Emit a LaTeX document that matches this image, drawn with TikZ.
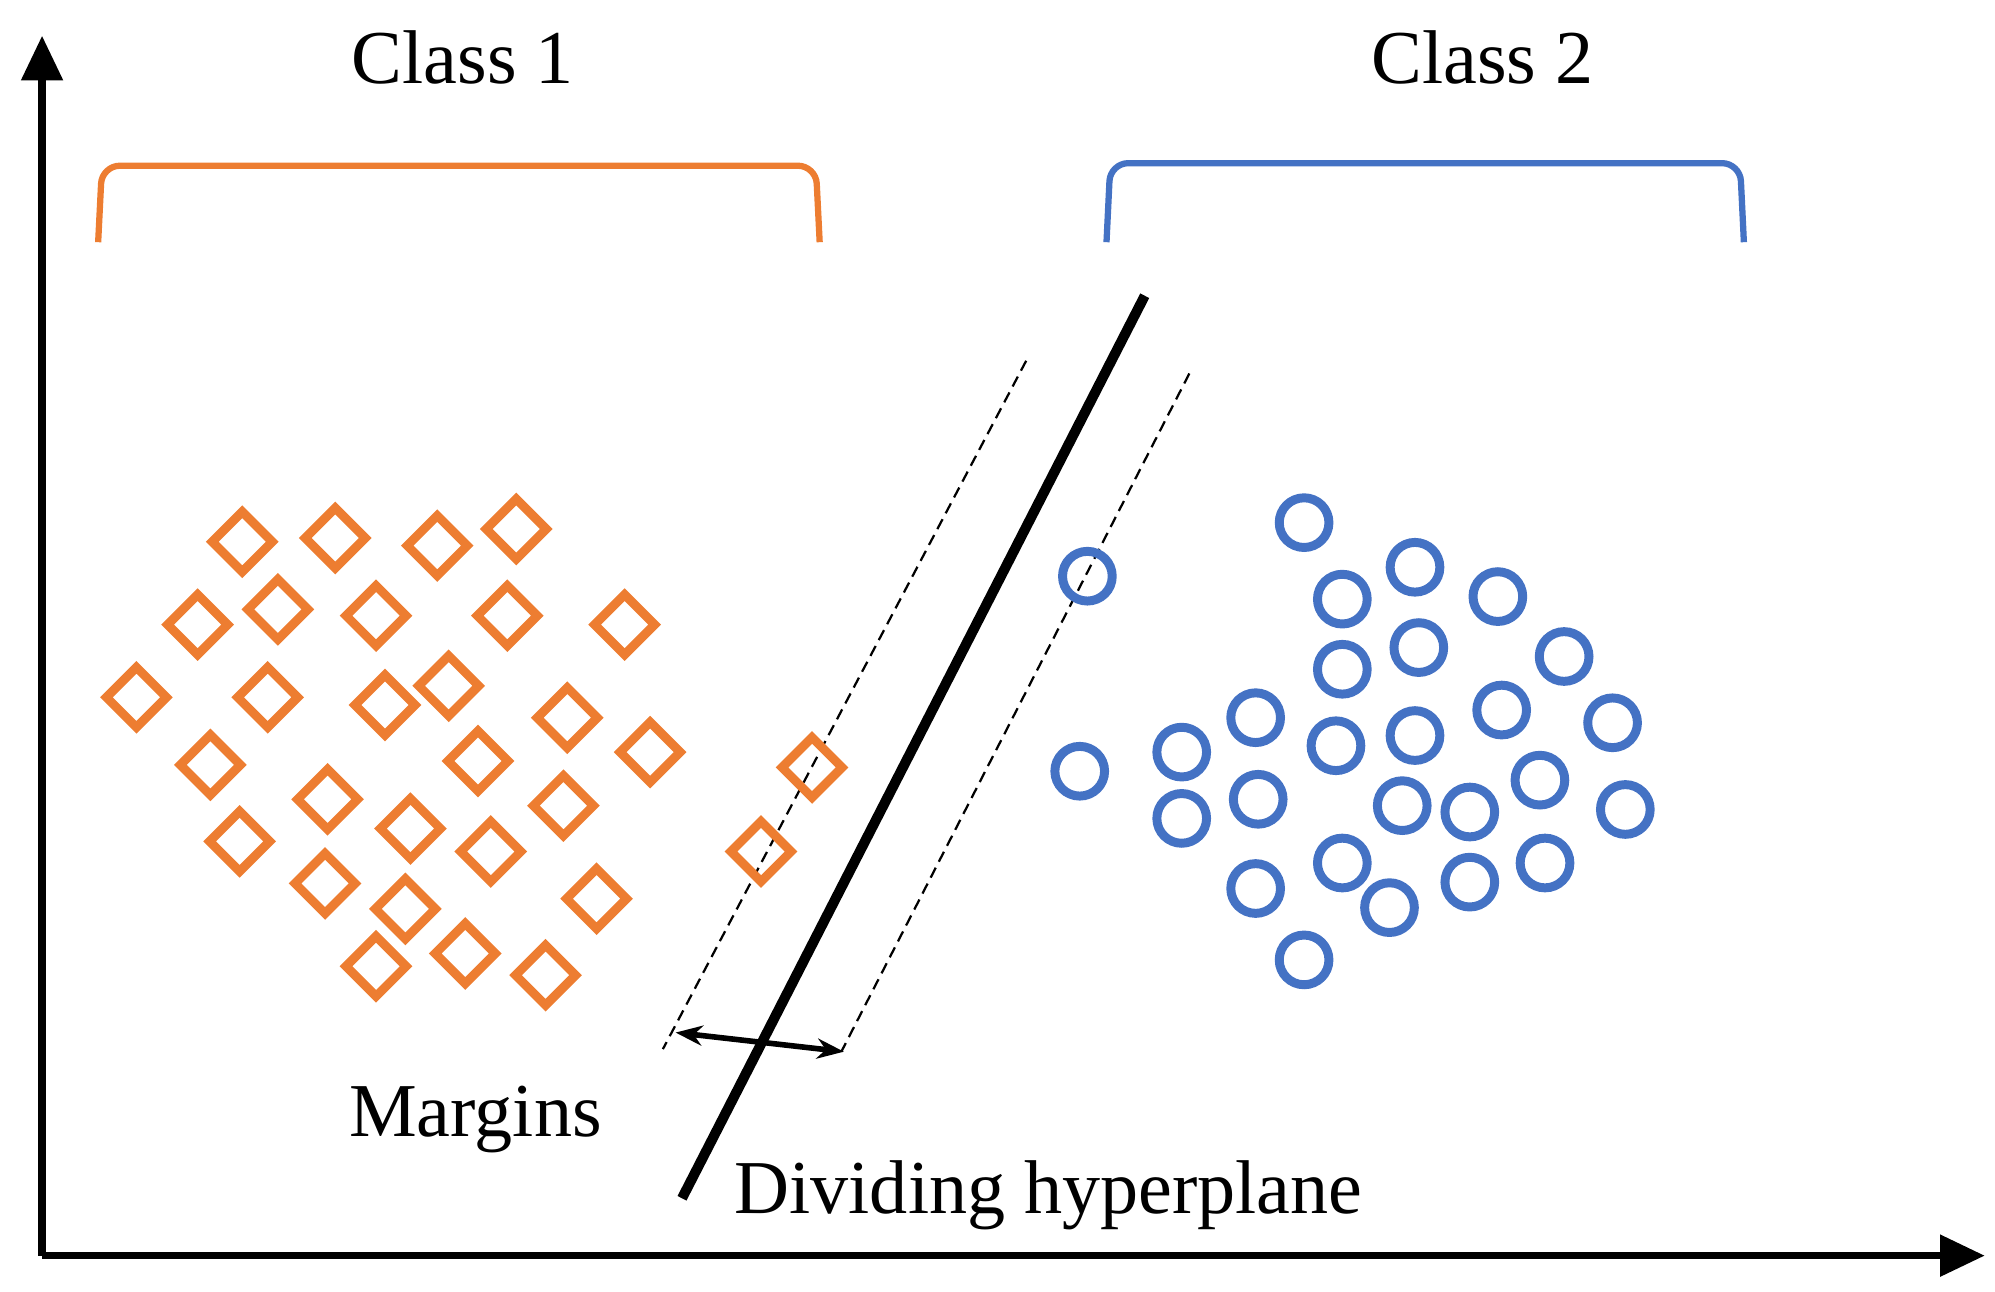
\documentclass[tikz,border=0pt]{standalone}
\usepackage{fontspec}
\setmainfont{Liberation Serif}
\usetikzlibrary{shapes.geometric,arrows.meta}
\definecolor{orng}{RGB}{237,125,49}
\definecolor{blu}{RGB}{68,114,196}
\begin{document}
\begin{tikzpicture}[x=0.02cm,y=-0.02cm,
  dia/.style={diamond,draw=orng,line width=4pt,minimum size=1.0cm,inner sep=0pt},
  circ/.style={circle,draw=blu,line width=4pt,minimum size=0.78cm,inner sep=0pt},
  lbl/.style={font=\fontsize{34}{40}\selectfont},
  axis/.style={line width=3.4pt,-{Triangle[length=20pt,width=18pt]}}]
\useasboundingbox (0,0) rectangle (1565,1013);
\coordinate (o) at (33,985);
\coordinate (ytop) at (33,28);
\coordinate (xend) at (1557,985);
\draw[axis] (o) -- (ytop);
\draw[axis] (o) -- (xend);
\node[lbl] (c1) at (363,45) {Class 1};
\node[lbl] (c2) at (1163,45) {Class 2};
\draw[orng,line width=2.8pt,rounded corners=8pt] (77,190) -- (80,130) -- (640,130) -- (643,190);
\draw[blu,line width=2.8pt,rounded corners=8pt] (868,190) -- (871,128) -- (1365,128) -- (1368,190);
\coordinate (h1) at (898,232); \coordinate (h2) at (535,940);
\draw[line width=4.5pt] (h1) -- (h2);
\coordinate (d1a) at (805,283); \coordinate (d1b) at (520,823);
\coordinate (d2a) at (933,293); \coordinate (d2b) at (660,825);
\draw[dashed,line width=1pt,dash pattern=on 5pt off 3pt] (d1a) -- (d1b);
\draw[dashed,line width=1pt,dash pattern=on 5pt off 3pt] (d2a) -- (d2b);
\coordinate (m1) at (530,810); \coordinate (m2) at (662,825);
\draw[line width=2.5pt,{Stealth[length=12pt]}-{Stealth[length=12pt]}] (m1) -- (m2);
\node[lbl] (mg) at (373,878) {Margins};
\node[lbl,anchor=west] (dh) at (570,938) {Dividing hyperplane};
\foreach \p [count=\i] in {(190,425),(263,422),(343,428),(405,415),(155,490),(218,478),(295,483),(398,483),(490,490),(107,547),(210,547),(302,553),(352,538),(445,563),(510,590),(165,600),(375,597),(257,627),(442,632),(637,602),(188,660),(322,650),(385,668),(597,668),(255,693),(318,713),(468,705),(295,758),(365,748),(428,765)}
  \node[dia] (d\i) at \p {};
\foreach \p [count=\i] in {(1023,410),(1110,445),(853,452),(1053,470),(1175,468),(1113,508),(1053,525),(1227,515),(985,563),(1178,557),(1265,567),(927,590),(1048,585),(1110,577),(847,605),(987,627),(1208,612),(1100,632),(1153,637),(1275,635),(927,642),(1053,677),(1212,677),(985,697),(1153,692),(1090,712),(1023,753)}
  \node[circ] (k\i) at \p {};
\end{tikzpicture}
\end{document}
